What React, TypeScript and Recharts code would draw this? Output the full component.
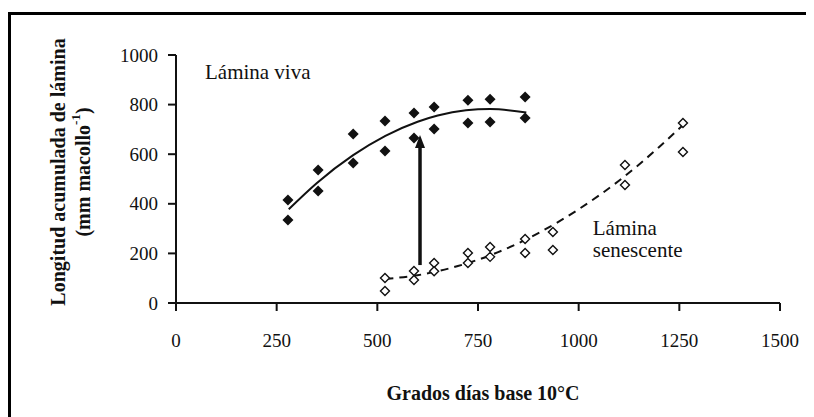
import React from 'react';
import { ComposedChart, Scatter, Line, XAxis, YAxis, ReferenceLine, ReferenceDot } from 'recharts';

// Lámina viva (filled diamonds)
const vivaX = [278, 278, 353, 353, 440, 440, 519, 519, 591, 591, 641, 641, 725, 725, 780, 780, 867, 867];
const vivaY = [415, 335, 536, 452, 681, 565, 734, 613, 766, 665, 790, 702, 818, 726, 822, 730, 831, 746];
// Lámina senescente (open diamonds)
const senX = [519, 519, 591, 591, 641, 641, 725, 725, 780, 780, 867, 867, 936, 936, 1115, 1115, 1259, 1259];
const senY = [101, 48, 129, 93, 161, 128, 202, 161, 226, 186, 258, 202, 286, 214, 556, 476, 726, 609];
// fitted curves
const vivaFitX = [280, 350, 440, 520, 600, 650, 720, 780, 870];
const vivaFitY = [378, 484, 596, 674, 731, 756, 777, 782, 768];
const senFitX = [520, 600, 700, 800, 900, 1000, 1100, 1200, 1265];
const senFitY = [97, 112, 149, 205, 282, 378, 493, 629, 727];
// arrow
const arrowX = 606;
const arrowFrom = 153;
const arrowTo = 677;

const xTicks = [0, 250, 500, 750, 1000, 1250, 1500];
const yTicks = [0, 200, 400, 600, 800, 1000];

const vivaData = vivaX.map((x, i) => ({ x, y: vivaY[i] }));
const senData = senX.map((x, i) => ({ x, y: senY[i] }));
const vivaFit = vivaFitX.map((x, i) => ({ x, y: vivaFitY[i] }));
const senFit = senFitX.map((x, i) => ({ x, y: senFitY[i] }));

const FONT = '"Liberation Serif", "Times New Roman", serif';
const INK = '#111';

const FilledDiamond = (p: any) => {
  const { cx, cy } = p;
  const r = 5.5;
  return <polygon points={`${cx},${cy - r} ${cx + r},${cy} ${cx},${cy + r} ${cx - r},${cy}`} fill={INK} />;
};
const OpenDiamond = (p: any) => {
  const { cx, cy } = p;
  const r = 4.5;
  return (
    <polygon
      points={`${cx},${cy - r} ${cx + r},${cy} ${cx},${cy + r} ${cx - r},${cy}`}
      fill="#fff"
      stroke={INK}
      strokeWidth={1.4}
    />
  );
};

const Arrow = (p: any) => {
  const { x1, y1, x2, y2 } = p;
  const top = Math.min(y1, y2);
  const bottom = Math.max(y1, y2);
  const x = x1;
  return (
    <g>
      <line x1={x} y1={bottom} x2={x} y2={top + 10} stroke={INK} strokeWidth={3.5} />
      <polygon points={`${x},${top} ${x + 5},${top + 13} ${x - 5},${top + 13}`} fill={INK} />
    </g>
  );
};

const XTick = (p: any) => (
  <text x={p.x} y={p.y + 27} textAnchor="middle" dominantBaseline="central" style={{ fontFamily: FONT }} fontSize={19} fill={INK}>
    {p.payload.value}
  </text>
);
const YTick = (p: any) => (
  <text x={p.x - 8} y={p.y} textAnchor="end" dominantBaseline="central" style={{ fontFamily: FONT }} fontSize={19} fill={INK}>
    {p.payload.value}
  </text>
);

const W = 806;
const H = 409;

export default function App() {
  return (
    <div style={{ position: 'relative', width: W, height: H, background: '#fff', fontFamily: FONT }}>
      <div style={{ position: 'absolute', left: 0, top: 4, width: W, height: 3, background: '#000' }} />
      <div style={{ position: 'absolute', left: 0, top: 4, width: 3, height: H - 4, background: '#000' }} />
      <ComposedChart
        width={W}
        height={H}
        margin={{ top: 47, right: 34, bottom: 84, left: 108 }}
        style={{ position: 'absolute', left: 0, top: 0, fontFamily: FONT }}
      >
        <XAxis
          type="number"
          dataKey="x"
          domain={[0, 1500]}
          ticks={xTicks}
          interval={0}
          allowDataOverflow
          height={30}
          axisLine={{ stroke: INK, strokeWidth: 2 }}
          tickLine={{ stroke: INK, strokeWidth: 2 }}
          tickSize={8}
          tick={<XTick />}
          label={{
            content: () => (
              <text x={475} y={385} textAnchor="middle" dominantBaseline="central" style={{ fontFamily: FONT }} fontWeight="bold" fontSize={20} fill={INK}>
                Grados días base 10°C
              </text>
            ),
          }}
        />
        <YAxis
          type="number"
          dataKey="y"
          domain={[0, 1000]}
          ticks={yTicks}
          interval={0}
          width={60}
          axisLine={{ stroke: INK, strokeWidth: 2 }}
          tickLine={{ stroke: INK, strokeWidth: 2 }}
          tickSize={8}
          tick={<YTick />}
          label={{
            content: () => (
              <g style={{ fontFamily: FONT }} fontWeight="bold" fontSize={20} fill={INK}>
                <text transform="translate(50,164) rotate(-90)" textAnchor="middle" dominantBaseline="central">
                  Longitud acumulada de lámina
                </text>
                <text transform="translate(75,164) rotate(-90)" textAnchor="middle" dominantBaseline="central">
                  (mm macollo<tspan baselineShift="super" fontSize={13}>-1</tspan>)
                </text>
              </g>
            ),
          }}
        />
        <Line data={vivaFit} dataKey="y" type="monotone" stroke={INK} strokeWidth={2} dot={false} isAnimationActive={false} />
        <Line data={senFit} dataKey="y" type="monotone" stroke={INK} strokeWidth={2} strokeDasharray="8 6" dot={false} isAnimationActive={false} />
        <Scatter data={vivaData} dataKey="y" shape={FilledDiamond} isAnimationActive={false} />
        <Scatter data={senData} dataKey="y" shape={OpenDiamond} isAnimationActive={false} />
        <ReferenceLine
          segment={[{ x: arrowX, y: arrowFrom }, { x: arrowX, y: arrowTo }]}
          shape={Arrow}
          ifOverflow="visible"
        />
        <ReferenceDot
          x={72}
          y={931}
          ifOverflow="visible"
          shape={(p: any) => (
            <text x={p.cx} y={p.cy} dominantBaseline="central" style={{ fontFamily: FONT }} fontSize={21} fill={INK}>
              Lámina viva
            </text>
          )}
        />
        <ReferenceDot
          x={1035}
          y={302}
          ifOverflow="visible"
          shape={(p: any) => (
            <text x={p.cx} y={p.cy} dominantBaseline="central" style={{ fontFamily: FONT }} fontSize={21} fill={INK}>
              <tspan x={p.cx}>Lámina</tspan>
              <tspan x={p.cx} dy={22}>senescente</tspan>
            </text>
          )}
        />
      </ComposedChart>
    </div>
  );
}
